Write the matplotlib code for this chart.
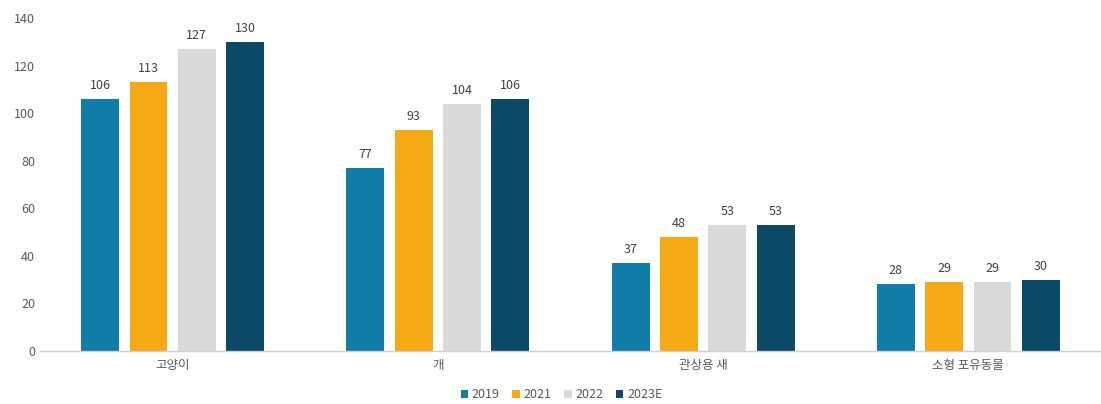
import matplotlib
matplotlib.use("Agg")
import matplotlib.pyplot as plt
import numpy as np

plt.rcParams['font.family'] = ['Noto Sans CJK KR', 'DejaVu Sans']

categories = ['고양이', '개', '관상용 새', '소형 포유동물']
series_names = ['2019', '2021', '2022', '2023E']
v2019 = [106, 77, 37, 28]
v2021 = [113, 93, 48, 29]
v2022 = [127, 104, 53, 29]
v2023 = [130, 106, 53, 30]
colors = ['#107CA8', '#F5A915', '#D9D9D9', '#0B4A66']
y_ticks = [0, 20, 40, 60, 80, 100, 120, 140]

fig = plt.figure(figsize=(11.01, 4.04), dpi=100)
ax = fig.add_axes([40 / 1101, 53 / 404, 1 - 40 / 1101, (351 - 18) / 404])

x = np.arange(len(categories))
pitch = 0.182
width = 0.143
all_vals = [v2019, v2021, v2022, v2023]
for i, (name, vals, c) in enumerate(zip(series_names, all_vals, colors)):
    pos = x + (i - 1.5) * pitch
    bars = ax.bar(pos, vals, width=width, color=c, label=name, zorder=2)
    for b, v in zip(bars, vals):
        ax.annotate(f'{v}', (b.get_x() + b.get_width() / 2, v),
                    xytext=(0, 5), textcoords='offset points',
                    ha='center', va='bottom', fontsize=9, color='#404040')

ax.set_xlim(-0.5, 3.5)
ax.set_ylim(0, 140)
ax.set_yticks(y_ticks)
ax.set_xticks(x)
ax.set_xticklabels(categories)
ax.tick_params(axis='both', length=0, labelsize=9, colors='#595959')
ax.tick_params(axis='x', pad=6)
for s in ['top', 'right', 'left']:
    ax.spines[s].set_visible(False)
ax.spines['bottom'].set_color('#D0D0D0')
ax.spines['bottom'].set_linewidth(1)

leg = fig.legend(loc='center', bbox_to_anchor=(0.51, 395 / 404 * 0 + 9 / 404),
                 ncol=4, frameon=False, fontsize=9, handlelength=0.6,
                 handleheight=0.6, handletextpad=0.3, columnspacing=1.0)
for t in leg.get_texts():
    t.set_color('#595959')

fig.savefig('out.png', dpi=100)
